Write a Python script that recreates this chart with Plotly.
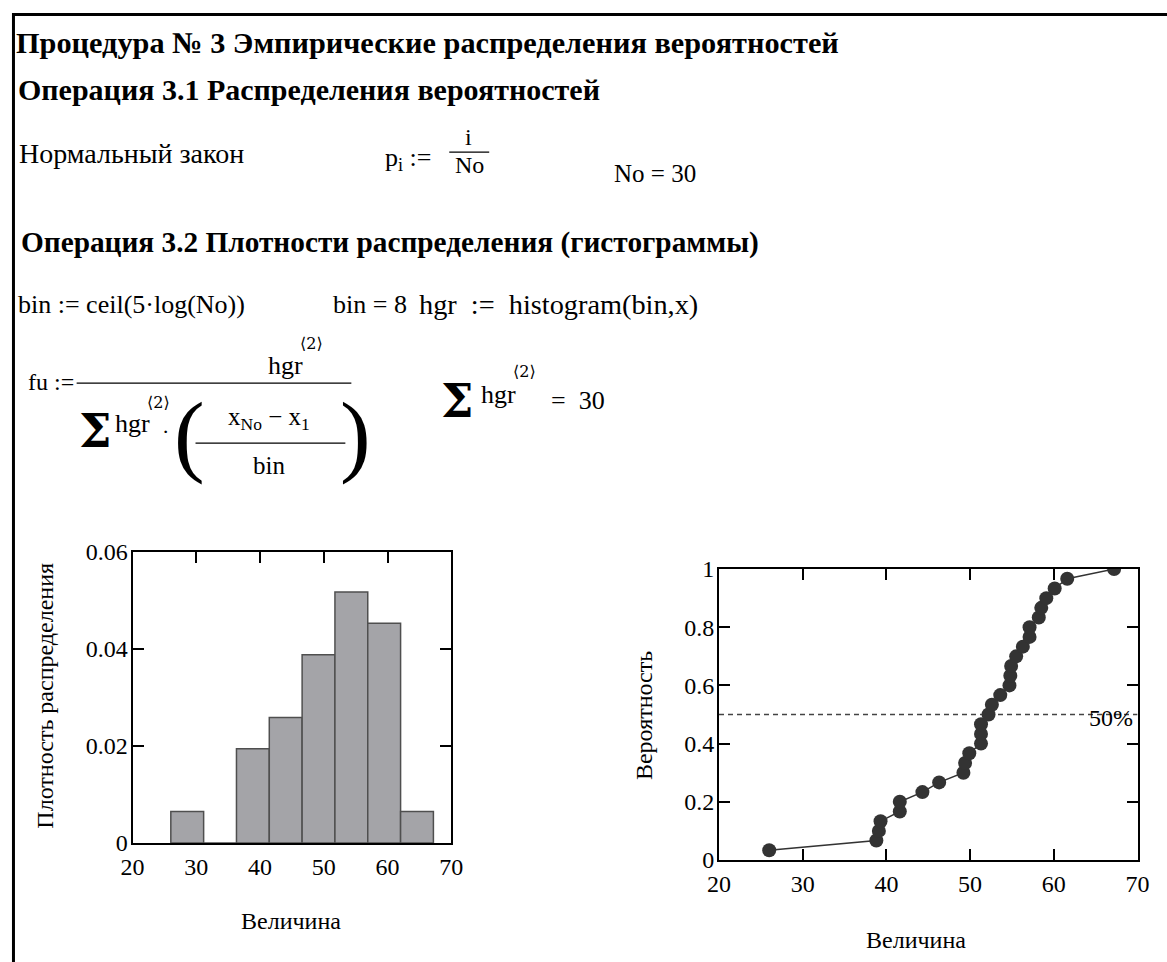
import numpy as np
import plotly.graph_objects as go

# ---------------- data ----------------
No = 30
n_bins = 8
# sorted sample values (x axis of the empirical distribution)
x_sorted = [26.0, 38.8, 39.1, 39.3, 41.6, 41.6, 44.3, 46.3, 49.2, 49.4,
            49.9, 51.3, 51.3, 51.3, 52.2, 52.6, 53.6, 54.7, 54.8, 54.9,
            55.5, 56.3, 57.1, 57.1, 58.2, 58.5, 59.1, 60.1, 61.6, 67.2]
# empirical probabilities p_i = i/No
probability = [0.0333, 0.0667, 0.1, 0.1333, 0.1667, 0.2, 0.2333, 0.2667, 0.3, 0.3333,
               0.3667, 0.4, 0.4333, 0.4667, 0.5, 0.5333, 0.5667, 0.6, 0.6333, 0.6667,
               0.7, 0.7333, 0.7667, 0.8, 0.8333, 0.8667, 0.9, 0.9333, 0.9667, 1.0]
median_level = 0.5
x_ticks = [20, 30, 40, 50, 60, 70]

# histogram as in Mathcad: histogram(bin, x) over [min, max], density normalisation
counts, edges = np.histogram(x_sorted, bins=n_bins, range=(min(x_sorted), max(x_sorted)))
bin_width = edges[1] - edges[0]
centers = (edges[:-1] + edges[1:]) / 2
density = counts / (counts.sum() * bin_width)

# ---------------- layout helpers ----------------
# positions are given in pixels of the reference picture and converted to the
# figure's paper coordinates (page offset and screenshot scale compensated)
W, H = 1200, 990
SX, CX = 0.981, 10.3
SY, CY = 0.974, 12.8
def px(P):
    return ((P - CX) / SX) / W
def py(P):
    return 1 - ((P - CY) / SY) / H

FONT = "Liberation Serif"

fig = go.Figure()

fig.add_trace(go.Bar(
    x=centers, y=density, width=bin_width,
    marker=dict(color="#a4a4a8", line=dict(color="#4f4f4f", width=1.5)),
    xaxis="x", yaxis="y", showlegend=False, hoverinfo="skip"))

fig.add_trace(go.Scatter(
    x=[20, 70], y=[median_level, median_level], mode="lines",
    line=dict(color="#444444", width=1.5, dash="5px,4px"),
    xaxis="x2", yaxis="y2", showlegend=False, hoverinfo="skip"))

fig.add_trace(go.Scatter(
    x=x_sorted, y=probability, mode="lines+markers",
    line=dict(color="#333333", width=1.5),
    marker=dict(size=14, color="#333333"),
    xaxis="x2", yaxis="y2", showlegend=False))

axis_common = dict(
    showline=True, linewidth=2, linecolor="black", mirror="ticks",
    ticks="inside", ticklen=11, tickwidth=2, tickcolor="black",
    showgrid=False, zeroline=False, layer="below traces",
    tickfont=dict(family=FONT, size=24, color="black"),
)

fig.update_layout(
    width=W, height=H,
    margin=dict(l=0, r=0, t=0, b=0),
    paper_bgcolor="white", plot_bgcolor="white",
    font=dict(family=FONT, color="black"),
    xaxis=dict(domain=[px(131), px(450)], range=[20, 70], tickvals=x_ticks,
               anchor="y", ticklabelstandoff=1, **axis_common),
    yaxis=dict(domain=[py(843), py(552)], range=[0, 0.06], dtick=0.02,
               anchor="x", ticklabelstandoff=-2, **axis_common),
    xaxis2=dict(domain=[px(718), px(1137)], range=[20, 70], tickvals=x_ticks,
                anchor="y2", ticklabelstandoff=1, **axis_common),
    yaxis2=dict(domain=[py(860), py(569)], range=[0, 1], dtick=0.2,
                anchor="x2", ticklabelstandoff=-2, **axis_common),
)

ann = []
def text(x, y, s, size=24, bold=False, xanchor="left", yanchor="middle", family=FONT):
    if bold:
        s = "<b>" + s + "</b>"
    ann.append(dict(x=px(x), y=py(y), xref="paper", yref="paper", text=s,
                    showarrow=False, xanchor=xanchor, yanchor=yanchor,
                    font=dict(family=family, size=size, color="black")))

# headings
text(12, 43, "Процедура № 3 Эмпирические распределения вероятностей", 30.3, True)
text(14, 89, "Операция 3.1 Распределения вероятностей", 30, True)
text(15, 153, "Нормальный закон", 28)
# p_i := i / No
text(382, 159, "p<sub>i</sub> :=", 26)
text(467, 137, "i", 24, xanchor="center")
text(468, 165, "No", 24, xanchor="center")
text(611, 173, "No = 30", 25)
text(17, 242, "Операция 3.2 Плотности распределения (гистограммы)", 29.3, True)
text(14, 304, "bin := ceil(5·log(No))", 26)
text(330, 304, "bin = 8", 26)
text(416, 304, "hgr&nbsp; :=&nbsp; histogram(bin,x)", 28.3)
# fu := hgr<2> / (Σhgr<2> · (x_No - x_1)/bin)
text(24, 382, "fu :=", 24)
text(284, 365, "hgr", 26, xanchor="center")
text(310, 343, "⟨2⟩", 16, xanchor="center", family="DejaVu Serif")
text(94, 431, "<b>Σ</b>", 46, xanchor="center", family="DejaVu Serif")
text(131, 423, "hgr", 26, xanchor="center")
text(157, 402, "⟨2⟩", 16, xanchor="center", family="DejaVu Serif")
text(164, 431, "·", 22, xanchor="center")
text(188, 434, "(", 92, xanchor="center")
text(354, 434, ")", 92, xanchor="center")
text(268, 418, "x<sub>No</sub> − x<sub>1</sub>", 25, xanchor="center")
text(268, 465, "bin", 25, xanchor="center")
# Σhgr<2> = 30
text(456, 401, "<b>Σ</b>", 46, xanchor="center", family="DejaVu Serif")
text(497, 394, "hgr", 26, xanchor="center")
text(523, 371, "⟨2⟩", 16, xanchor="center", family="DejaVu Serif")
text(548, 400, "=&nbsp; 30", 26)

# axis titles
ann.append(dict(x=px(43), y=py(696), xref="paper", yref="paper", text="Плотность распределения",
                textangle=-90, showarrow=False, xanchor="center", yanchor="middle",
                font=dict(family=FONT, size=24, color="black")))
text(290, 921, "Величина", 24, xanchor="center")
ann.append(dict(x=px(643), y=py(716), xref="paper", yref="paper", text="Вероятность",
                textangle=-90, showarrow=False, xanchor="center", yanchor="middle",
                font=dict(family=FONT, size=24, color="black")))
text(915, 940, "Величина", 24, xanchor="center")
# 50% label
ann.append(dict(x=70, y=median_level, xref="x2", yref="y2", text="50%", showarrow=False,
                xanchor="right", yanchor="middle", xshift=-3, yshift=-3,
                font=dict(family=FONT, size=24, color="black")))

fig.update_layout(annotations=ann)

shapes = [
    # page frame (top and left rules)
    dict(type="line", xref="paper", yref="paper", x0=1.5 / W, x1=1, y0=1 - 1.5 / H, y1=1 - 1.5 / H,
         line=dict(color="black", width=3)),
    dict(type="line", xref="paper", yref="paper", x0=1.5 / W, x1=1.5 / W, y0=1, y1=0,
         line=dict(color="black", width=3)),
    # fraction bars
    dict(type="line", xref="paper", yref="paper", x0=px(448), x1=px(488), y0=py(152), y1=py(152),
         line=dict(color="black", width=1.3)),
    dict(type="line", xref="paper", yref="paper", x0=px(75), x1=px(350), y0=py(383), y1=py(383),
         line=dict(color="black", width=1.3)),
    dict(type="line", xref="paper", yref="paper", x0=px(194), x1=px(344), y0=py(443), y1=py(443),
         line=dict(color="black", width=1.3)),
]
fig.update_layout(shapes=shapes)

fig.write_html("out.html")
